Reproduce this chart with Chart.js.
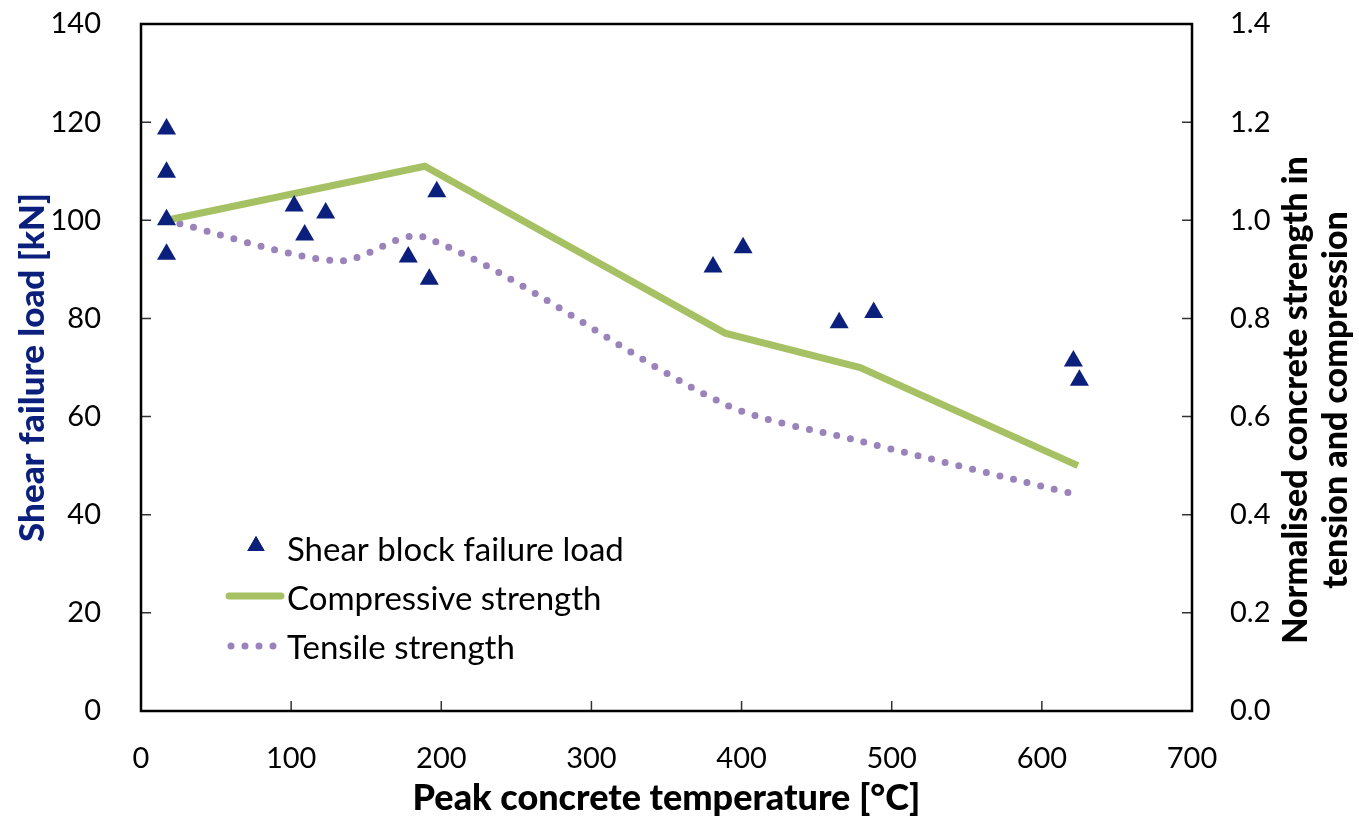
<!DOCTYPE html>
<html>
<head>
<meta charset="utf-8">
<script src="https://cdn.jsdelivr.net/npm/chart.js@4.4.1/dist/chart.umd.min.js"></script>
<style>
  html, body { margin: 0; padding: 0; background: #fff; }
  #wrap { width: 1359px; height: 824px; }
</style>
</head>
<body>
<div id="wrap"><canvas id="chart"></canvas></div>
<script>
// shear block tests: peak temperature [°C] and failure load [kN]
const shearTemp = [17, 17, 17, 17, 102, 109, 123, 178, 192, 197, 381, 401, 465, 488, 621, 625];
const shearLoad = [118.6, 109.8, 100.1, 93.1, 102.9, 97.0, 101.5, 92.5, 88.0, 105.8, 90.5, 94.4, 79.1, 81.2, 71.3, 67.4];

// normalised concrete strength
const compTemp = [17, 189, 389, 479, 624];
const compStrength = [1.0, 1.11, 0.77, 0.70, 0.50];
const tensTemp = [17, 131, 189, 389, 479, 624];
const tensStrength = [1.0, 0.917, 0.965, 0.625, 0.55, 0.44];

const xTicks = [0, 100, 200, 300, 400, 500, 600, 700];
const loadTicks = [0, 20, 40, 60, 80, 100, 120, 140];
const strengthTicks = [0, 0.2, 0.4, 0.6, 0.8, 1.0, 1.2, 1.4];

const FONT = "Lato, 'Open Sans', sans-serif";
const navy = '#0b1f7d';
const green = '#a6c164';
const purple = '#9a82bb';

const toPoints = (xs, ys) => xs.map((x, i) => ({ x: x, y: ys[i] }));

// frame, inward ticks, legend and right-hand title
const decorPlugin = {
  id: 'decor',
  afterDraw(chart) {
    const ctx = chart.ctx;
    const a = chart.chartArea;
    const sx = chart.scales.x, sy = chart.scales.y, sy2 = chart.scales.y2;
    ctx.save();
    ctx.strokeStyle = '#333';
    ctx.lineWidth = 1.5;
    ctx.beginPath();
    xTicks.forEach(v => { const p = sx.getPixelForValue(v); ctx.moveTo(p, a.bottom); ctx.lineTo(p, a.bottom - 10); });
    loadTicks.forEach(v => { const p = sy.getPixelForValue(v); ctx.moveTo(a.left, p); ctx.lineTo(a.left + 10, p); });
    strengthTicks.forEach(v => { const p = sy2.getPixelForValue(v); ctx.moveTo(a.right, p); ctx.lineTo(a.right - 10, p); });
    ctx.stroke();
    ctx.strokeStyle = '#000';
    ctx.lineWidth = 2.5;
    ctx.strokeRect(a.left, a.top, a.right - a.left, a.bottom - a.top);

    // legend
    const lx = a.left + 88, ly = a.top + 524;
    ctx.font = '33px ' + FONT;
    ctx.fillStyle = '#000';
    ctx.textBaseline = 'middle';
    ctx.textAlign = 'left';
    Chart.helpers.drawPoint(ctx, { pointStyle: 'triangle', radius: 10, rotation: 0, borderWidth: 0 }, lx + 27, ly - 2);
    ctx.fillStyle = navy;
    ctx.fill();
    ctx.fillStyle = '#000';
    ctx.fillText('Shear block failure load', lx + 58, ly + 2);
    ctx.strokeStyle = green; ctx.lineWidth = 7; ctx.lineCap = 'round';
    ctx.beginPath(); ctx.moveTo(lx, ly + 48); ctx.lineTo(lx + 52, ly + 48); ctx.stroke();
    ctx.fillText('Compressive strength', lx + 58, ly + 51);
    ctx.strokeStyle = purple; ctx.setLineDash([0, 14]);
    ctx.beginPath(); ctx.moveTo(lx + 2, ly + 98); ctx.lineTo(lx + 52, ly + 98); ctx.stroke();
    ctx.setLineDash([]);
    ctx.fillText('Tensile strength', lx + 58, ly + 100);

    // right axis title, reading bottom to top
    ctx.translate(a.right + 124, a.top + 376);
    ctx.rotate(-Math.PI / 2);
    ctx.font = '900 34px ' + FONT;
    ctx.textAlign = 'center';
    ctx.fillText('Normalised concrete strength in', 0, -20);
    ctx.fillText('tension and compression', 0, 20);
    ctx.restore();
  }
};

const fitY = w => s => { s.width = w; s.paddingTop = 24; s.paddingBottom = 0; };

new Chart(document.getElementById('chart'), {
  type: 'scatter',
  data: {
    datasets: [
      {
        label: 'Shear block failure load',
        data: toPoints(shearTemp, shearLoad),
        yAxisID: 'y',
        pointStyle: 'triangle',
        pointRadius: 11,
        backgroundColor: navy,
        borderColor: navy,
        borderWidth: 0
      },
      {
        label: 'Compressive strength',
        data: toPoints(compTemp, compStrength),
        yAxisID: 'y2',
        showLine: true,
        borderColor: green,
        borderWidth: 7,
        pointRadius: 0,
        tension: 0
      },
      {
        label: 'Tensile strength',
        data: toPoints(tensTemp, tensStrength),
        yAxisID: 'y2',
        showLine: true,
        borderColor: purple,
        borderWidth: 7,
        borderDash: [0, 14],
        borderCapStyle: 'round',
        pointRadius: 0,
        tension: 0.3
      }
    ]
  },
  options: {
    responsive: true,
    maintainAspectRatio: false,
    animation: false,
    layout: { padding: 0 },
    plugins: { legend: { display: false }, tooltip: { enabled: false } },
    scales: {
      x: {
        type: 'linear', min: 0, max: 700,
        afterBuildTicks: s => { s.ticks = xTicks.map(v => ({ value: v })); },
        afterFit: s => { s.height = 113; },
        grid: { display: false },
        border: { display: false },
        ticks: { color: '#000', font: { family: FONT, size: 29 }, padding: 22 },
        title: { display: true, text: 'Peak concrete temperature [°C]', color: '#000', font: { family: FONT, size: 36, weight: '900' }, padding: { top: 2 } }
      },
      y: {
        position: 'left', min: 0, max: 140,
        afterBuildTicks: s => { s.ticks = loadTicks.map(v => ({ value: v })); },
        afterFit: fitY(141),
        grid: { display: false },
        border: { display: false },
        ticks: { color: '#000', font: { family: FONT, size: 29 }, padding: 32 },
        title: { display: true, text: 'Shear failure load [kN]', color: navy, font: { family: FONT, size: 35, weight: '900' }, padding: { top: 12 } }
      },
      y2: {
        position: 'right', min: 0, max: 1.4,
        afterBuildTicks: s => { s.ticks = strengthTicks.map(v => ({ value: v })); },
        afterFit: fitY(167),
        grid: { display: false },
        border: { display: false },
        ticks: { color: '#000', font: { family: FONT, size: 29 }, padding: 30, callback: v => v.toFixed(1) }
      }
    }
  },
  plugins: [decorPlugin]
});
</script>
</body>
</html>
